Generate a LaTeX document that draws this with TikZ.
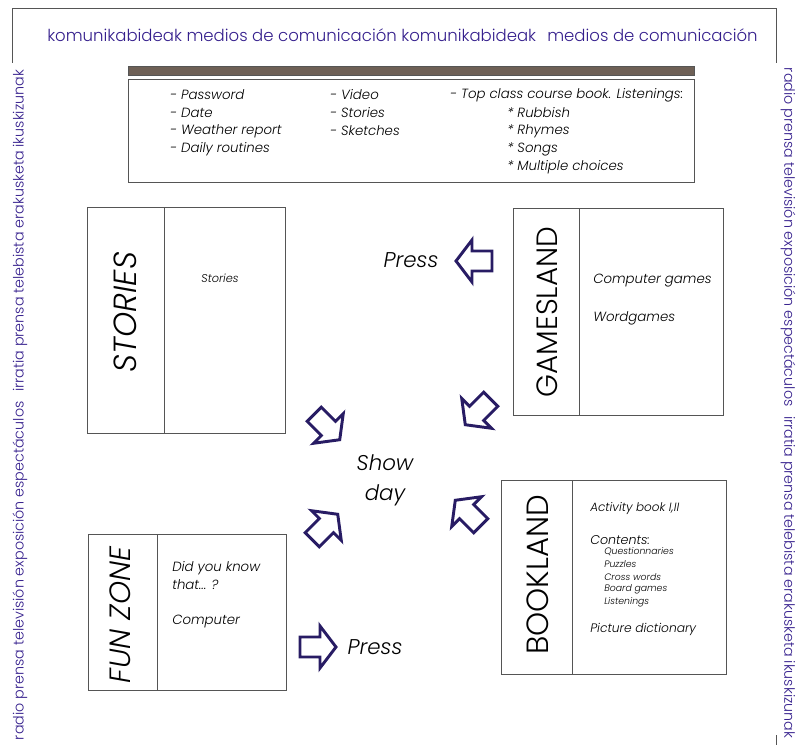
\documentclass[tikz,border=0pt]{standalone}
\usepackage{fontspec}
\setmainfont{Poppins Light}[ItalicFont={Poppins Light Italic}]
\definecolor{ink}{RGB}{52,30,140}
\definecolor{arrowink}{RGB}{40,28,100}
\definecolor{barbrown}{RGB}{110,96,86}
\definecolor{rulegray}{RGB}{85,85,85}

\begin{document}
\begin{tikzpicture}[x=0.75pt,y=-0.75pt,
      every node/.style={inner sep=0pt},
      panel/.style={draw=rulegray, line width=0.6pt},
      zonetitle/.style={rotate=90, font=\fontsize{22}{24}\selectfont},
      listitem/.style={anchor=west, font=\itshape\fontsize{10}{12}\selectfont},
      zoneitem/.style={anchor=west, font=\itshape\fontsize{10}{12}\selectfont},
      smallitem/.style={anchor=west, font=\itshape\fontsize{7}{9}\selectfont},
      bigword/.style={font=\itshape\fontsize{16}{22.5}\selectfont},
      sideline/.style={text=ink, font=\fontsize{10.7}{12}\selectfont},
      blockarrow/.pic={
        \draw[draw=arrowink, line width=2.2pt, fill=white, line join=miter]
          (-18,-10) -- (2,-10) -- (2,-21) -- (18,0) -- (2,21) -- (2,10) -- (-18,10) -- cycle;}
    ]
    \useasboundingbox (0,0) rectangle (798,745);

    % frame and heading
    \draw[panel] (12,63) -- (12,8) -- (776,8) -- (776,63);
    \draw[panel] (776,735) -- (776,745);
    \node[anchor=west, text=ink, font=\fontsize{12.4}{14}\selectfont] (heading) at (47,35)
     {komunikabideak medios de comunicación komunikabideak\hspace{0.4em} medios de comunicación};
    \node[sideline, rotate=90] (side left) at (20,405)
     {radio prensa televisión exposición espectáculos\hspace{0.4em} irratia prensa telebista erakusketa ikuskizunak};
    \node[sideline, rotate=-90] (side right) at (788,403)
     {radio prensa televisión exposición espectáculos\hspace{0.4em} irratia prensa telebista erakusketa ikuskizunak};

    % daily list
    \draw[draw=rulegray, fill=barbrown] (128,66) rectangle (694,75);
    \draw[panel] (128,79) rectangle (694,182);
    \node[listitem] (password) at (170,95) {- Password};
    \node[listitem] (date) at (170,113) {- Date};
    \node[listitem] (weather) at (170,131) {- Weather report};
    \node[listitem] (routines) at (170,149) {- Daily routines};
    \node[listitem] (video) at (330,95) {- Video};
    \node[listitem] (stories list) at (330,113) {- Stories};
    \node[listitem] (sketches) at (330,131) {- Sketches};
    \node[listitem] (course book) at (450,95) {- Top class course book. Listenings:};
    \node[listitem] (rubbish) at (507,113) {* Rubbish};
    \node[listitem] (rhymes) at (507,131) {* Rhymes};
    \node[listitem] (songs) at (507,149) {* Songs};
    \node[listitem] (choices) at (507,167) {* Multiple choices};

    % stories
    \draw[panel] (87,207) rectangle (285,433);
    \draw[panel] (164,207) -- (164,433);
    \node[zonetitle, font=\itshape\fontsize{24}{26}\selectfont] (stories) at (125,312) {STORIES};
    \node[font=\itshape\fontsize{8.5}{10}\selectfont] (stories item) at (220,278) {Stories};

    % gamesland
    \draw[panel] (513,208) rectangle (723,415);
    \draw[panel] (579,208) -- (579,415);
    \node[zonetitle] (gamesland) at (547,312) {GAMESLAND};
    \node[zoneitem] (computer games) at (593,281) {Computer games};
    \node[zoneitem] (wordgames) at (593,318) {Wordgames};

    % bookland
    \draw[panel] (501,480) rectangle (726,674);
    \draw[panel] (572,480) -- (572,674);
    \node[zonetitle, font=\fontsize{23}{25}\selectfont] (bookland) at (538,575) {BOOKLAND};
    \node[listitem, font=\itshape\fontsize{9}{10}\selectfont] (activity) at (590,509) {Activity book I,II};
    \node[listitem, font=\itshape\fontsize{9.5}{11}\selectfont] (contents) at (590,540) {Contents:};
    \node[smallitem] (questionnaries) at (604,552) {Questionnaries};
    \node[smallitem] (puzzles) at (604,564) {Puzzles};
    \node[smallitem] (cross words) at (604,577) {Cross words};
    \node[smallitem] (board games) at (604,589) {Board games};
    \node[smallitem] (listenings) at (604,602) {Listenings};
    \node[listitem, font=\itshape\fontsize{9.2}{11}\selectfont] (dictionary) at (590,629) {Picture dictionary};

    % fun zone
    \draw[panel] (88,534) rectangle (286,690);
    \draw[panel] (157,534) -- (157,690);
    \node[zonetitle, font=\itshape\fontsize{22}{24}\selectfont] (fun zone) at (120,615) {FUN ZONE};
    \node[zoneitem] (did you know) at (172,568) {Did you know};
    \node[zoneitem] (that) at (172,585) {that... ?};
    \node[zoneitem] (computer) at (172,621) {Computer};

    % show day and arrows
    \node[bigword, align=center] (show day) at (385,480) {Show\\day};
    \node[bigword] (press top) at (411,260) {Press};
    \node[bigword] (press bottom) at (375,647) {Press};
    \pic[rotate=180] at (474,261) {blockarrow};
    \pic at (318,647) {blockarrow};
    \pic[rotate=-45] at (327,427) {blockarrow};
    \pic[rotate=-135] at (478,412) {blockarrow};
    \pic[rotate=45] at (325,527) {blockarrow};
    \pic[rotate=135] at (468,513) {blockarrow};
\end{tikzpicture}
\end{document}
